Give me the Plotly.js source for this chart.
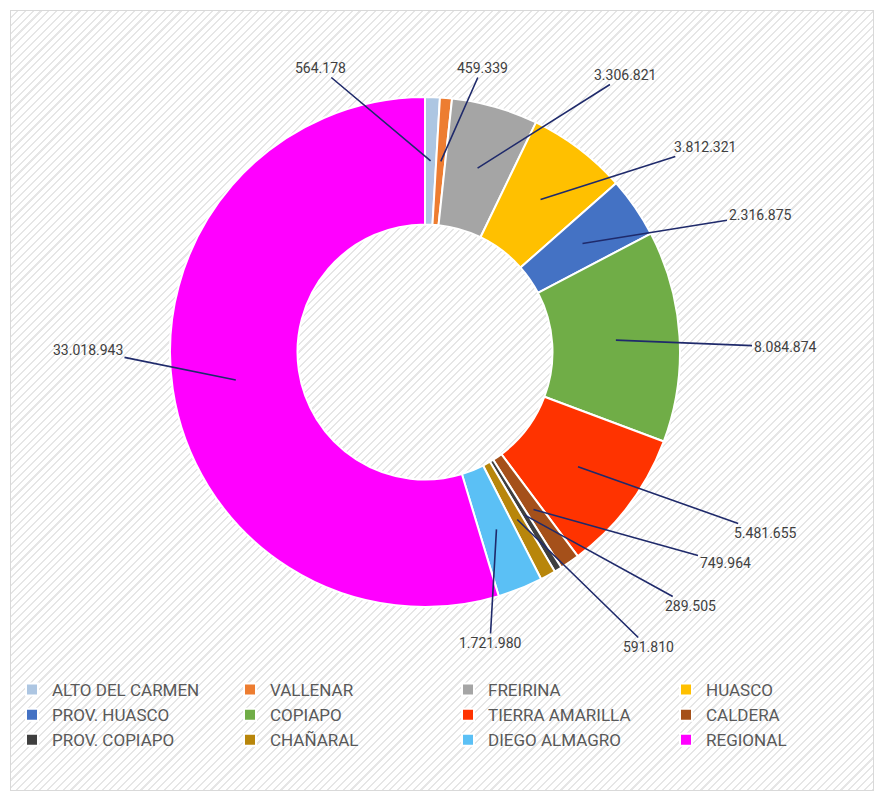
<!DOCTYPE html>
<html>
<head>
<meta charset="utf-8">
<script src="https://cdn.plot.ly/plotly-3.0.1.min.js"></script>
<style>
  html, body { margin: 0; padding: 0; background: #ffffff; }
  #wrap { position: relative; width: 884px; height: 801px; overflow: hidden; }
  #bg { position: absolute; left: 10px; top: 10px; width: 862px; height: 779px;
        border: 1px solid #d9d9d9;
        background: repeating-linear-gradient(135deg, #ffffff 0px, #ffffff 4px, #e6e6e6 4px, #e6e6e6 5.5px); }
  #chart { position: absolute; left: 0; top: 0; width: 884px; height: 801px; }
</style>
</head>
<body>
<div id="wrap"><div id="bg"></div><div id="chart"></div></div>
<script>
// ---- data ----
const categories = ["ALTO DEL CARMEN", "VALLENAR", "FREIRINA", "HUASCO", "PROV. HUASCO", "COPIAPO",
                    "TIERRA AMARILLA", "CALDERA", "PROV. COPIAPO", "CHAÑARAL", "DIEGO ALMAGRO", "REGIONAL"];
const values = [564178, 459339, 3306821, 3812321, 2316875, 8084874,
                5481655, 749964, 289505, 591810, 1721980, 33018943];

// ---- styling / layout ----
const colors = ["#adc6e2", "#ed7d31", "#a5a5a5", "#ffc000", "#4472c4", "#70ad47",
                "#ff3300", "#a5501a", "#3f3f3f", "#b8860b", "#5bc0f5", "#ff00ff"];
// label text positions in px (layout only)
const labelPos = [[320, 68], [482, 68], [625, 75], [705, 147], [760, 215], [785, 347],
                  [765, 533], [725, 563], [690, 606], [648, 647], [490, 643], [88, 350]];

const W = 884, H = 801;
const cx = 425, cy = 352, R = 255, hole = 0.5;
const rHead = R * (1 + hole) / 2;

function fmt(n) {
  const s = String(n);
  let out = "";
  for (let i = 0; i < s.length; i++) {
    const fromEnd = s.length - i;
    out += s[i];
    if (fromEnd > 1 && (fromEnd - 1) % 3 === 0) out += ".";
  }
  return out;
}

const total = values.reduce((a, b) => a + b, 0);
let cum = 0;
const annotations = values.map((v, i) => {
  const mid = (cum + v / 2) / total * 2 * Math.PI;
  cum += v;
  const hx = cx + rHead * Math.sin(mid);
  const hy = cy - rHead * Math.cos(mid);
  return {
    x: hx / W, y: 1 - hy / H, xref: "paper", yref: "paper",
    ax: labelPos[i][0] - hx, ay: labelPos[i][1] - hy,
    text: fmt(v), showarrow: true, arrowhead: 0, arrowwidth: 1.6,
    arrowcolor: "#1f2a6b", standoff: 0,
    font: { family: "Roboto, sans-serif", size: 14, color: "#404040" }
  };
});

const trace = {
  type: "pie",
  labels: categories,
  values: values,
  hole: hole,
  sort: false,
  direction: "clockwise",
  rotation: 0,
  textinfo: "none",
  hoverinfo: "label+value",
  marker: { colors: colors, line: { color: "#ffffff", width: 2 } },
  domain: { x: [(cx - R) / W, (cx + R) / W], y: [1 - (cy + R) / H, 1 - (cy - R) / H] }
};

const layout = {
  width: W, height: H,
  margin: { l: 0, r: 0, t: 0, b: 0 },
  paper_bgcolor: "rgba(0,0,0,0)",
  plot_bgcolor: "rgba(0,0,0,0)",
  showlegend: true,
  legend: {
    orientation: "h", x: 12 / W, xanchor: "left", y: 1 - 672 / H, yanchor: "top",
    entrywidth: 173, entrywidthmode: "pixels",
    font: { family: "Roboto, sans-serif", size: 17, color: "#595959" },
    bgcolor: "rgba(0,0,0,0)", traceorder: "normal"
  },
  annotations: annotations
};

Plotly.newPlot("chart", [trace], layout, { displayModeBar: false, staticPlot: true });
</script>
</body>
</html>
